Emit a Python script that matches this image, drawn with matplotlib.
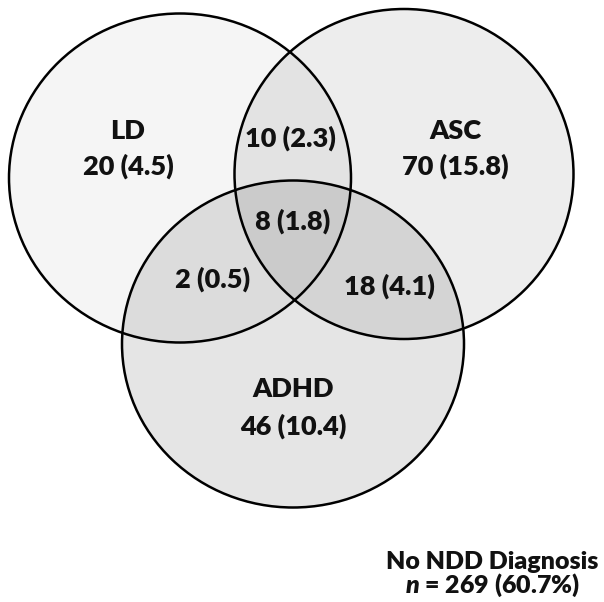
import matplotlib
matplotlib.use("Agg")
import matplotlib.pyplot as plt
from matplotlib.patches import Ellipse

# set names and region counts (percent of total in brackets)
set_names = ["LD", "ASC", "ADHD"]
only_counts = [20, 70, 46]
only_pcts = [4.5, 15.8, 10.4]
pair_names = ["LD&ASC", "LD&ADHD", "ASC&ADHD"]
pair_counts = [10, 2, 18]
pair_pcts = [2.3, 0.5, 4.1]
all_count = 8
all_pct = 1.8
none_count = 269
none_pct = 60.7

plt.rcParams['font.family'] = ['Lato', 'DejaVu Sans']
plt.rcParams['mathtext.fontset'] = 'custom'
plt.rcParams['mathtext.it'] = 'Lato:italic:heavy'

fig = plt.figure(figsize=(6.04, 6.02), dpi=100)
ax = fig.add_axes([0, 0, 1, 1])
ax.set_xlim(0, 604)
ax.set_ylim(602, 0)
ax.axis('off')

# circle geometry in pixel coords (slightly squashed, like the original)
centers = [(180, 178), (404, 174), (293, 344)]
widths = [342, 339, 342]
heights = [329, 330, 327]
shades = [0.04, 0.07, 0.10]

for (cx, cy), w, h, a in zip(centers, widths, heights, shades):
    ax.add_patch(Ellipse((cx, cy), w, h, facecolor='black', alpha=a, edgecolor='none'))
for (cx, cy), w, h in zip(centers, widths, heights):
    ax.add_patch(Ellipse((cx, cy), w, h, facecolor='none', edgecolor='black', lw=1.8))

kw = dict(ha='center', va='center', fontsize=19.5, fontweight='heavy', color='#111111')

name_pos = [(128, 131), (455, 131), (293, 389)]
count_pos = [(128, 166), (455, 166), (293, 426)]
for name, c, p, npos, cpos in zip(set_names, only_counts, only_pcts, name_pos, count_pos):
    ax.text(*npos, name, **kw)
    ax.text(*cpos, f"{c} ({p})", **kw)

pair_pos = [(290, 138), (213, 279), (389, 286)]
for c, p, pos in zip(pair_counts, pair_pcts, pair_pos):
    ax.text(*pos, f"{c} ({p})", **kw)

ax.text(293, 221, f"{all_count} ({all_pct})", **kw)

kw_note = dict(kw, fontsize=18)
ax.text(492, 562, "No NDD Diagnosis", **kw_note)
ax.text(492, 585, rf"$n$ = {none_count} ({none_pct}%)", **kw_note)

fig.savefig("out.png", dpi=100)
